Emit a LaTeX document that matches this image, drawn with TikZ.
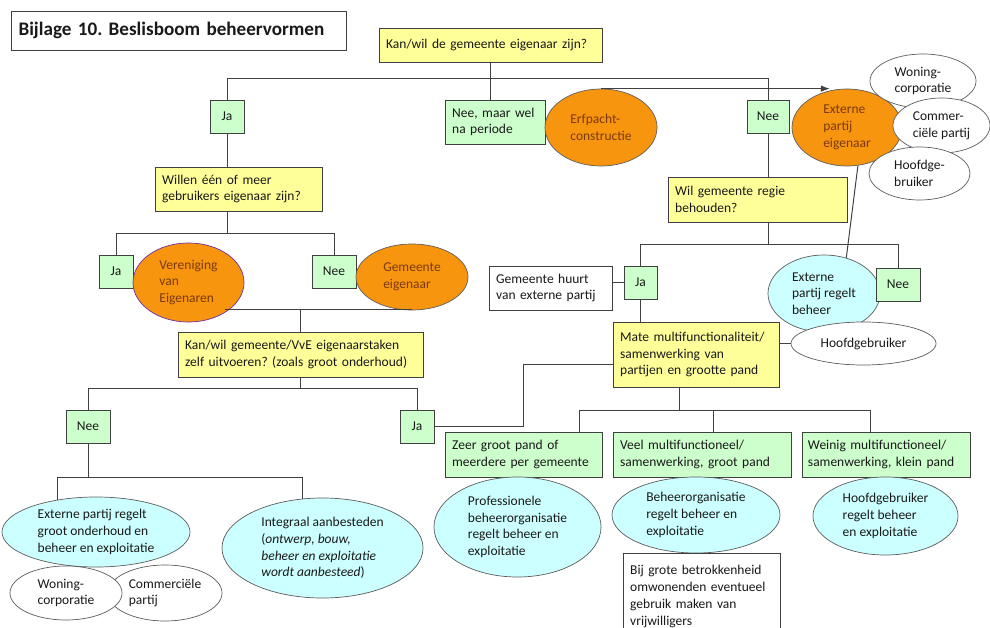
\documentclass[tikz,border=0pt]{standalone}
\usepackage{fontspec}
\setmainfont{Carlito}
\usepackage{tikz}
\usetikzlibrary{arrows.meta,shapes.geometric,calc}
\definecolor{boxYellow}{HTML}{FFFF99}
\definecolor{boxGreen}{HTML}{CCFFCC}
\definecolor{ovalOrange}{HTML}{F7950F}
\definecolor{ovalCyan}{HTML}{CCFFFF}
\definecolor{lineGrey}{HTML}{404040}
\definecolor{textBrown}{HTML}{7A3A08}
\definecolor{vveBorder}{HTML}{7030A0}
\frenchspacing

\tikzset{
  every node/.style={font=\fontsize{9.6}{11.9}\selectfont, text=black!90},
  box/.style={draw=lineGrey, line width=0.6pt, rectangle, inner xsep=0.18cm, inner ysep=0pt, align=left},
  question/.style={box, fill=boxYellow},
  answer/.style={box, fill=boxGreen},
  yesno/.style={answer, align=center, inner xsep=0.1cm, minimum height=0.825cm},
  remark/.style={box, fill=white},
  oval/.style={ellipse, draw=lineGrey!85, line width=0.5pt, inner sep=0pt, align=left},
  owner/.style={oval, fill=ovalOrange, text=textBrown},
  manage/.style={oval, fill=ovalCyan},
  party/.style={oval, fill=white},
  link/.style={draw=lineGrey, line width=0.7pt},
}

\begin{document}
\begin{tikzpicture}[x=0.025cm,y=-0.025cm]
\useasboundingbox (0,0) rectangle (990,628);
\node[box, font=\fontsize{13.6}{16}\selectfont\bfseries, text width=7.995cm, minimum height=0.975cm, inner xsep=0.19cm] (title) at (178.5,30.5) {Bijlage 10. Beslisboom beheervormen};
% first question
\node[question, text width=5.215cm, minimum height=0.85cm] (q1) at (490.5,45) {Kan/wil de gemeente eigenaar zijn?};
\node[yesno, minimum width=0.85cm] (ja1) at (227,116.5) {Ja};
\node[answer, text width=2.14cm, minimum height=1.1cm] (neemaar) at (495,122) {Nee, maar wel\\na periode};
\node[owner, minimum width=2.8cm, minimum height=1.925cm] (erfpacht) at (601,127.5) {Erfpacht-\\constructie};
\node[yesno, minimum width=1.05cm] (nee1) at (768,116.5) {Nee};
\node[owner, minimum width=2.75cm, minimum height=1.925cm] (exteig) at (847,127.5) {Externe\\partij\\eigenaar};
\node[party, minimum width=2.65cm, minimum height=1.35cm] (woning1) at (923,81) {Woning-\\corporatie};
\node[party, minimum width=2.425cm, minimum height=1.375cm] (commer1) at (941.5,125.5) {Commer-\\ciële partij};
\node[party, minimum width=2.525cm, minimum height=1.325cm] (hoofdge) at (919.5,173.5) {Hoofdge-\\bruiker};
% left branch: eigenaar
\node[question, text width=3.815cm, minimum height=1.1cm] (willen) at (238.5,189) {Willen één of meer\\gebruikers eigenaar zijn?};
\node[yesno, minimum width=0.85cm] (ja3) at (116,271.5) {Ja};
\node[owner, draw=vveBorder, minimum width=2.775cm, minimum height=1.975cm] (vve) at (188.5,282.5) {Vereniging\\van\\Eigenaren};
\node[yesno, minimum width=1.1cm] (nee2) at (334,271.5) {Nee};
\node[owner, minimum width=2.8cm, minimum height=1.65cm] (gemeig) at (412,277) {Gemeente\\eigenaar};
\node[question, text width=5.765cm, minimum height=1.125cm] (kanvve) at (300.5,354.5) {Kan/wil gemeente/VvE eigenaarstaken\\zelf uitvoeren? (zoals groot onderhoud)};
\node[yesno, minimum width=1.1cm] (nee4) at (88,426.5) {Nee};
\node[yesno, minimum width=0.85cm] (ja4) at (417,426.5) {Ja};
\node[manage, minimum width=4.7cm, minimum height=1.75cm] (extgroot) at (96,532) {Externe partij regelt\\groot onderhoud en\\beheer en exploitatie};
\node[manage, minimum width=5.025cm, minimum height=2.5cm] (integraal) at (322.5,548) {Integraal aanbesteden\\(\textit{ontwerp, bouw,}\\\textit{beheer en exploitatie}\\\textit{wordt aanbesteed})};
\node[party, minimum width=2.85cm, minimum height=1.4cm] (commer2) at (165,593) {Commerciële\\partij};
\node[party, minimum width=2.8cm, minimum height=1.35cm] (woning2) at (66,593) {Woning-\\corporatie};
% right branch: regie
\node[question, text width=4.115cm, minimum height=1.125cm] (wilregie) at (757.5,199.5) {Wil gemeente regie\\behouden?};
\node[remark, text width=2.715cm, minimum height=1.1cm] (huurt) at (550.5,288) {Gemeente huurt\\van externe partij};
\node[yesno, minimum width=0.825cm] (ja2) at (640.5,282.5) {Ja};
\node[manage, minimum width=2.8cm, minimum height=1.925cm] (extregelt) at (824,293.5) {Externe\\partij regelt\\beheer};
\node[yesno, minimum width=1.1cm] (nee3) at (898,284.5) {Nee};
\node[question, text width=3.79cm, minimum height=1.625cm] (mate) at (696,354.5) {Mate multifunctionaliteit/\\samenwerking van\\partijen en grootte pand};
\node[party, align=center, minimum width=3.625cm, minimum height=1.075cm] (hoofd2) at (863.5,343.5) {Hoofdgebruiker};
% pand sizes
\node[answer, text width=3.565cm, minimum height=1.125cm] (zeer) at (523.5,454.5) {Zeer groot pand of\\meerdere per gemeente};
\node[answer, text width=4.09cm, minimum height=1.125cm] (veel) at (702,454.5) {Veel multifunctioneel/\\samenwerking, groot pand};
\node[answer, text width=3.9cm, inner xsep=0.15cm, minimum height=1.125cm] (weinig) at (886,454.5) {Weinig multifunctioneel/\\samenwerking, klein pand};
\node[manage, minimum width=4.175cm, minimum height=2.5cm] (prof) at (517.5,527) {Professionele\\beheerorganisatie\\regelt beheer en\\exploitatie};
\node[manage, minimum width=4.2cm, minimum height=1.9cm] (beheerorg) at (696,515) {Beheerorganisatie\\regelt beheer en\\exploitatie};
\node[manage, minimum width=3.625cm, minimum height=1.95cm] (hoofd3) at (885.5,516) {Hoofdgebruiker\\regelt beheer\\en exploitatie};
\node[remark, anchor=north, text width=3.565cm, inner ysep=0.3cm] (bij) at (701.5,553) {Bij grote betrokkenheid\\omwonenden eventueel\\gebruik maken van\\vrijwilligers};
% connectors top
\draw[link] (q1.south) -- ++(0,16) coordinate (top);
\draw[link] (ja1.north) |- (top) -| (nee1.north);
\draw[link] (top) -- (top |- neemaar.north);
\draw[link, -{Latex[length=2.2mm,width=1.6mm]}] (erfpacht.north) -- (erfpacht.north -| exteig.115);
% connectors left
\draw[link] (ja1.south) -- (ja1.south |- willen.north);
\draw[link] (ja1.south |- willen.south) -- ++(0,22) coordinate (own);
\draw[link] (ja3.north) |- (own) -| (nee2.north);
\draw[link] (kanvve.north) -- ++(0,-22) coordinate (vvej);
\draw[link] (vve.-40 |- vvej) -- (gemeig.south |- vvej);
\draw[link] (kanvve.south) -- ++(0,11) coordinate (self);
\draw[link] (nee4.north) |- (self) -| (ja4.north);
\draw[link] (nee4.south) -- ++(0,34) coordinate (ext);
\draw[link] (extgroot.140) |- (ext) -| (integraal.112);
\draw[link] (ja4.east) -- ++(89,0) |- ([yshift=-0.25cm]mate.west);
% connectors right
\draw[link] (nee1.south) -- (nee1.south |- wilregie.north);
\draw[link] (nee1.south |- wilregie.south) -- ++(0,22) coordinate (regie);
\draw[link] (ja2.north) |- (regie) -| (nee3.north);
\draw[link] (extregelt.58) -- (exteig.-74);
\draw[link] (huurt.east |- ja2.west) -- (ja2.west);
\draw[link] (ja2.south) -- (ja2.south |- mate.north);
\draw[link] (hoofd2.west) -- (hoofd2.west -| mate.east);
\draw[link] ([xshift=-0.425cm]mate.south) -- ++(0,23) coordinate (size);
\draw[link] ([xshift=1.4cm]zeer.north) |- (size) -| ([xshift=-0.4cm]weinig.north);
\draw[link] ([xshift=0.275cm]veel.north) -- ++(0,-22);
\end{tikzpicture}
\end{document}
